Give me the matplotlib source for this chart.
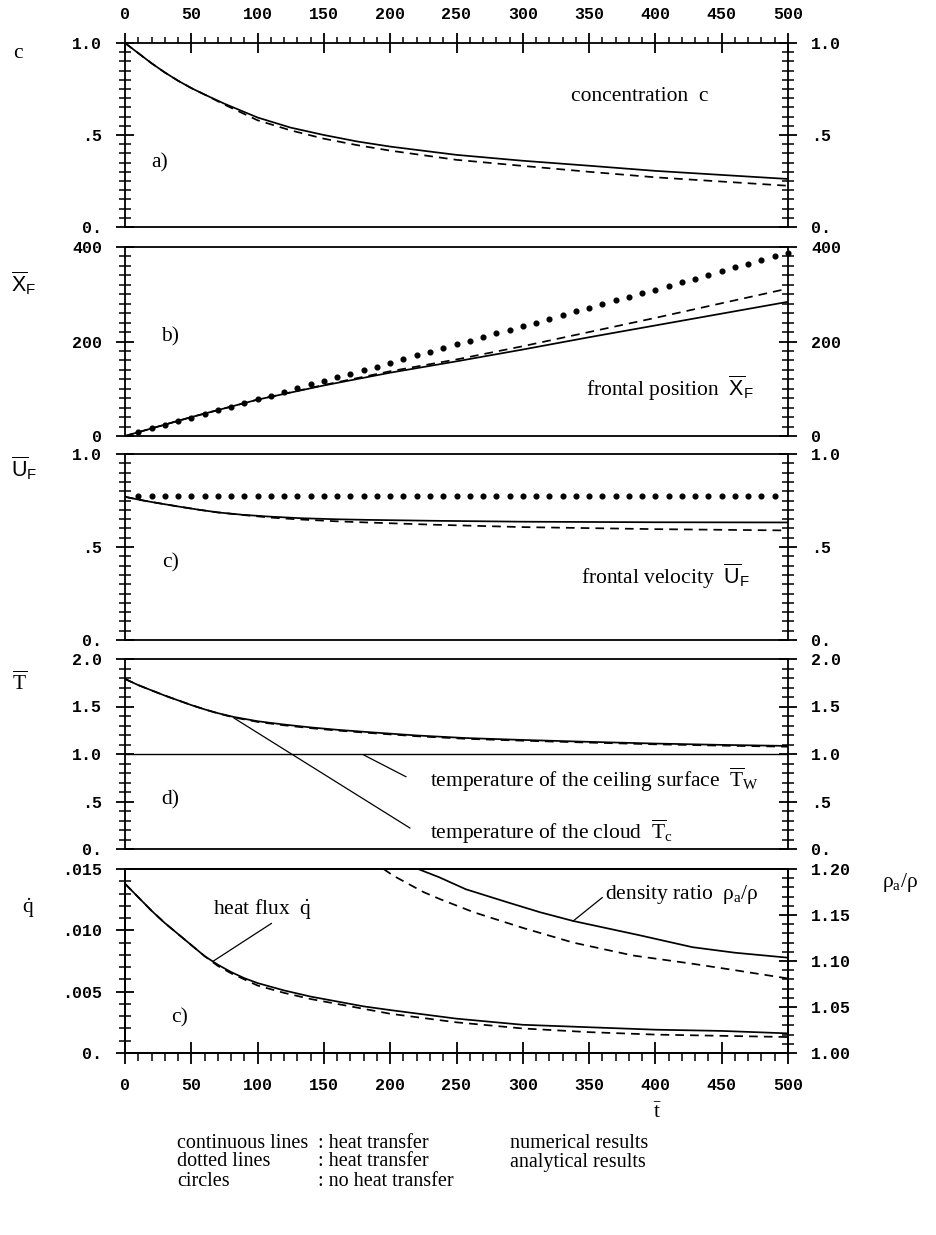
"""
Gravity current of a heated cloud under a ceiling: five stacked panels
(concentration, frontal position, frontal velocity, temperatures, heat flux / density ratio).
"""

import matplotlib
matplotlib.use("Agg")
import matplotlib.pyplot as plt
from matplotlib.ticker import MultipleLocator

plt.rcParams["font.family"] = ["Liberation Serif", "DejaVu Serif"]
plt.rcParams["mathtext.fontset"] = "custom"
plt.rcParams["mathtext.rm"] = "Liberation Serif"
plt.rcParams["mathtext.it"] = "Liberation Serif:italic"
plt.rcParams["mathtext.sf"] = "Liberation Sans"

MONO = "Liberation Mono"
FS = 15.5

# ---- data ---------------------------------------------------------------
t_ticks = [0, 50, 100, 150, 200, 250, 300, 350, 400, 450, 500]
t_labels = ["0", "50", "100", "150", "200", "250", "300", "350", "400", "450", "500"]

# a) concentration
t_conc = [0, 10, 20, 30, 40, 50, 60, 75, 100, 125, 150, 175, 200, 250, 300, 350, 400, 450, 500]
conc_num = [1.0, 0.945, 0.89, 0.84, 0.795, 0.755, 0.72, 0.67, 0.595, 0.54, 0.50, 0.465, 0.437,
            0.392, 0.36, 0.333, 0.305, 0.283, 0.261]
conc_ana = [1.0, 0.945, 0.89, 0.84, 0.795, 0.755, 0.72, 0.665, 0.58, 0.525, 0.48, 0.445, 0.415,
            0.365, 0.332, 0.30, 0.27, 0.247, 0.224]

# b) frontal position
t_pos = [0, 50, 100, 150, 200, 250, 300, 350, 400, 450, 500]
pos_num = [0, 40, 77, 107, 134, 158, 183, 209, 234, 259, 284]
pos_ana = [0, 40, 77, 108, 137, 162, 190, 220, 250, 281, 312]
t_pos_dots = [10, 20, 30, 40, 50, 60, 70, 80, 90, 100,
              110, 120, 130, 140, 150, 160, 170, 180, 190, 200,
              210, 220, 230, 240, 250, 260, 270, 280, 290, 300,
              310, 320, 330, 340, 350, 360, 370, 380, 390, 400,
              410, 420, 430, 440, 450, 460, 470, 480, 490, 500]
pos_dots = [8, 16, 23, 31, 39, 47, 54, 62, 70, 78,
            85, 93, 101, 109, 116, 124, 132, 140, 147, 155,
            163, 171, 178, 186, 194, 202, 209, 217, 225, 233,
            240, 248, 256, 264, 271, 279, 287, 295, 302, 310,
            318, 326, 333, 341, 349, 357, 364, 372, 380, 388]

# c) frontal velocity
t_vel = [0, 10, 20, 30, 40, 56, 70, 89, 110, 132, 160, 182, 232, 300, 400, 500]
vel_num = [0.77, 0.755, 0.742, 0.73, 0.718, 0.70, 0.686, 0.673, 0.663, 0.655, 0.649, 0.646,
           0.641, 0.636, 0.633, 0.632]
vel_ana = [0.77, 0.755, 0.742, 0.73, 0.718, 0.70, 0.686, 0.672, 0.658, 0.648, 0.638, 0.632,
           0.62, 0.607, 0.596, 0.589]
t_vel_dots = [10, 20, 30, 40, 50, 60, 70, 80, 90, 100,
              110, 120, 130, 140, 150, 160, 170, 180, 190, 200,
              210, 220, 230, 240, 250, 260, 270, 280, 290, 300,
              310, 320, 330, 340, 350, 360, 370, 380, 390, 400,
              410, 420, 430, 440, 450, 460, 470, 480, 490]
vel_dots = [0.775, 0.775, 0.775, 0.775, 0.775, 0.775, 0.775, 0.775, 0.775, 0.775,
            0.775, 0.775, 0.775, 0.775, 0.775, 0.775, 0.775, 0.775, 0.775, 0.775,
            0.775, 0.775, 0.775, 0.775, 0.775, 0.775, 0.775, 0.775, 0.775, 0.775,
            0.775, 0.775, 0.775, 0.775, 0.775, 0.775, 0.775, 0.775, 0.775, 0.775,
            0.775, 0.775, 0.775, 0.775, 0.775, 0.775, 0.775, 0.775, 0.775]

# d) temperatures
t_temp = [0, 10, 20, 30, 40, 50, 60, 70, 82, 100, 120, 140, 160, 182, 220, 257, 300, 350, 400, 450, 500]
temp_num = [1.79, 1.725, 1.67, 1.615, 1.565, 1.515, 1.47, 1.43, 1.39, 1.345, 1.31, 1.28, 1.255,
            1.232, 1.195, 1.168, 1.148, 1.128, 1.11, 1.096, 1.085]
temp_ana = [1.79, 1.725, 1.67, 1.615, 1.565, 1.515, 1.47, 1.428, 1.385, 1.338, 1.302, 1.272, 1.247,
            1.224, 1.187, 1.16, 1.14, 1.12, 1.102, 1.088, 1.077]
t_wall = [0, 500]
temp_wall = [1.0, 1.0]

# e) heat flux (left axis) and density ratio (right axis)
t_flux = [0, 10, 20, 30, 40, 50, 60, 70, 80, 90, 100, 120, 140, 160, 180, 200, 250, 300, 350, 400, 450, 500]
flux_num = [0.0138, 0.0127, 0.0116, 0.0106, 0.0097, 0.0088, 0.0079, 0.0072, 0.0066, 0.0061, 0.0057,
            0.0051, 0.0046, 0.0042, 0.0038, 0.0035, 0.0028, 0.0023, 0.0021, 0.0019, 0.0018, 0.0016]
flux_ana = [0.0138, 0.0127, 0.0116, 0.0106, 0.0097, 0.0088, 0.0079, 0.0071, 0.0065, 0.0060, 0.0055,
            0.0049, 0.0044, 0.0040, 0.0036, 0.0032, 0.0025, 0.0020, 0.0017, 0.0015, 0.0014, 0.0013]
t_dens_num = [221, 237, 257, 288, 313, 338, 388, 428, 460, 500]
dens_num = [1.20, 1.191, 1.178, 1.164, 1.153, 1.1435, 1.128, 1.115, 1.109, 1.1036]
t_dens_ana = [195, 202, 225, 238, 263, 300, 338, 383, 428, 460, 500]
dens_ana = [1.20, 1.193, 1.175, 1.167, 1.153, 1.136, 1.12, 1.106, 1.097, 1.09, 1.081]

# ---- layout (pixel edges of the five panels in a 936 x 1235 figure) -----
FIG_W, FIG_H = 936, 1235
X0, X1 = 125, 788
PANELS = [(43, 227), (247, 436), (454, 640), (659, 849), (869, 1053)]

LW = 1.25
DASH = (0, (5, 3.5))


def rect(top, bottom):
    return [X0 / FIG_W, 1 - bottom / FIG_H, (X1 - X0) / FIG_W, (bottom - top) / FIG_H]


def style_y(ax, ticks, labels, minor, lim, left=True, right=True):
    ax.set_ylim(*lim)
    ax.set_yticks(ticks, labels, fontfamily=MONO, fontsize=12, fontweight="bold")
    ax.yaxis.set_minor_locator(MultipleLocator(minor))
    ax.tick_params(axis="y", which="major", direction="inout", length=13, width=1.3,
                   left=left, right=right, labelleft=left, labelright=right, pad=10)
    ax.tick_params(axis="y", which="minor", direction="inout", length=8.5, width=1.1,
                   left=left, right=right)


def style_x(ax, where=None):
    ax.set_xlim(0, 500)
    ax.set_xticks(t_ticks, t_labels, fontfamily=MONO, fontsize=12, fontweight="bold")
    ax.xaxis.set_minor_locator(MultipleLocator(10))
    ax.tick_params(axis="x", which="both", bottom=False, top=False,
                   labelbottom=False, labeltop=False)
    if where == "top":
        ax.tick_params(axis="x", which="major", top=True, labeltop=True,
                       direction="inout", length=14, width=1.3, pad=8)
        ax.tick_params(axis="x", which="minor", top=True, direction="out", length=4.5, width=1.1)
    elif where == "bottom":
        ax.tick_params(axis="x", which="major", bottom=True, labelbottom=True,
                       direction="inout", length=16, width=1.3, pad=10)
        ax.tick_params(axis="x", which="minor", bottom=True, direction="out", length=5.5, width=1.1)
    for s in ax.spines.values():
        s.set_linewidth(1.3)


def leader(ax, p0, p1):
    ax.annotate("", xy=p0, xytext=p1,
                arrowprops=dict(arrowstyle="-", lw=0.9, color="black", shrinkA=0, shrinkB=0))


fig = plt.figure(figsize=(FIG_W / 100, FIG_H / 100), dpi=100)
axes = [fig.add_axes(rect(*p)) for p in PANELS]
ax_a, ax_b, ax_c, ax_d, ax_e = axes

# a) concentration
ax_a.plot(t_conc, conc_num, color="black", lw=LW)
ax_a.plot(t_conc, conc_ana, color="black", lw=LW, linestyle=DASH)
style_x(ax_a, "top")
style_y(ax_a, [0, 0.5, 1.0], ["0.", ".5", "1.0"], 0.05, (0, 1.0))
ax_a.text(388, 0.71, "concentration  c", fontsize=FS, ha="center", va="center")
ax_a.text(26, 0.35, "a)", fontsize=FS, ha="center", va="center")

# b) frontal position
ax_b.plot(t_pos, pos_num, color="black", lw=LW)
ax_b.plot(t_pos, pos_ana, color="black", lw=LW, linestyle=DASH)
ax_b.plot(t_pos_dots, pos_dots, linestyle="none", marker="o", ms=3.4, color="black", clip_on=False)
style_x(ax_b)
style_y(ax_b, [0, 200, 400], ["0", "200", "400"], 20, (0, 400))
ax_b.text(348, 101, r"frontal position  $\overline{\mathsf{X}}_{\mathsf{F}}$", fontsize=FS, ha="left", va="center")
ax_b.text(34, 210, "b)", fontsize=FS, ha="center", va="center")

# c) frontal velocity
ax_c.plot(t_vel, vel_num, color="black", lw=LW)
ax_c.plot(t_vel, vel_ana, color="black", lw=LW, linestyle=DASH)
ax_c.plot(t_vel_dots, vel_dots, linestyle="none", marker="o", ms=3.4, color="black")
style_x(ax_c)
style_y(ax_c, [0, 0.5, 1.0], ["0.", ".5", "1.0"], 0.05, (0, 1.0))
ax_c.text(344, 0.34, r"frontal velocity  $\overline{\mathsf{U}}_{\mathsf{F}}$", fontsize=FS, ha="left", va="center")
ax_c.text(34, 0.414, "c)", fontsize=FS, ha="center", va="center")

# d) temperatures
ax_d.plot(t_temp, temp_num, color="black", lw=LW)
ax_d.plot(t_temp, temp_ana, color="black", lw=LW, linestyle=DASH)
ax_d.plot(t_wall, temp_wall, color="black", lw=1.0)
style_x(ax_d)
style_y(ax_d, [0, 0.5, 1.0, 1.5, 2.0], ["0.", ".5", "1.0", "1.5", "2.0"], 0.1, (0, 2.0))
leader(ax_d, (180, 0.99), (212, 0.76))
leader(ax_d, (82, 1.38), (215, 0.22))
ax_d.text(230, 0.726, r"temperature of the ceiling surface  $\overline{\mathrm{T}}_{\mathrm{W}}$",
          fontsize=FS, ha="left", va="center")
ax_d.text(230, 0.18, r"temperature of the cloud  $\overline{\mathrm{T}}_{\mathrm{c}}$",
          fontsize=FS, ha="left", va="center")
ax_d.text(34, 0.516, "d)", fontsize=FS, ha="center", va="center")

# e) heat flux and density ratio
ax_e.plot(t_flux, flux_num, color="black", lw=LW)
ax_e.plot(t_flux, flux_ana, color="black", lw=LW, linestyle=DASH)
style_x(ax_e, "bottom")
style_y(ax_e, [0, 0.005, 0.010, 0.015], ["0.", ".005", ".010", ".015"], 0.001, (0, 0.015), right=False)
leader(ax_e, (66, 0.00745), (110.5, 0.01057))
ax_e.text(66, 0.01174, r"heat flux  $\dot{\mathrm{q}}$", fontsize=FS, ha="left", va="center")
ax_e.text(41.5, 0.00283, "c)", fontsize=FS, ha="center", va="center")

ax_r = ax_e.twinx()
ax_r.plot(t_dens_num, dens_num, color="black", lw=LW)
ax_r.plot(t_dens_ana, dens_ana, color="black", lw=LW, linestyle=DASH)
ax_r.set_xlim(0, 500)
style_y(ax_r, [1.0, 1.05, 1.10, 1.15, 1.20], ["1.00", "1.05", "1.10", "1.15", "1.20"], 0.01,
        (1.0, 1.2), left=False)
for s in ax_r.spines.values():
    s.set_linewidth(1.3)
leader(ax_r, (338, 1.1435), (360, 1.169))
ax_r.text(362, 1.1727, "density ratio  ρ$_{\\mathrm{a}}$/ρ", fontsize=FS, ha="left", va="center")


# axis symbols outside the panels
def ftext(x, y, s, **kw):
    fig.text(x / FIG_W, 1 - y / FIG_H, s, fontsize=FS, ha="center", va="center", **kw)


ftext(18, 53, "c")
ftext(24, 283, r"$\overline{\mathsf{X}}_{\mathsf{F}}$")
ftext(24, 468, r"$\overline{\mathsf{U}}_{\mathsf{F}}$")
ftext(20, 683, r"$\overline{\mathrm{T}}$")
ftext(28, 908, r"$\dot{\mathrm{q}}$")
ftext(900, 882, "ρ$_{\\mathrm{a}}$/ρ")
ftext(658, 1113, r"$\bar{\mathrm{t}}$")

# key below the chart
key_rows = [
    ("continuous lines", ": heat transfer", "numerical results"),
    ("dotted lines", ": heat transfer", "analytical results"),
    ("circles", ": no heat transfer", ""),
]
for i, (c1, c2, c3) in enumerate(key_rows):
    y = 1 - (1143 + 19 * i) / FIG_H
    fig.text(177 / FIG_W, y, c1, fontsize=14.5, ha="left", va="center")
    fig.text(318 / FIG_W, y, c2, fontsize=14.5, ha="left", va="center")
    fig.text(510 / FIG_W, y, c3, fontsize=14.5, ha="left", va="center")

fig.savefig("out.png", dpi=100)
plt.close(fig)
